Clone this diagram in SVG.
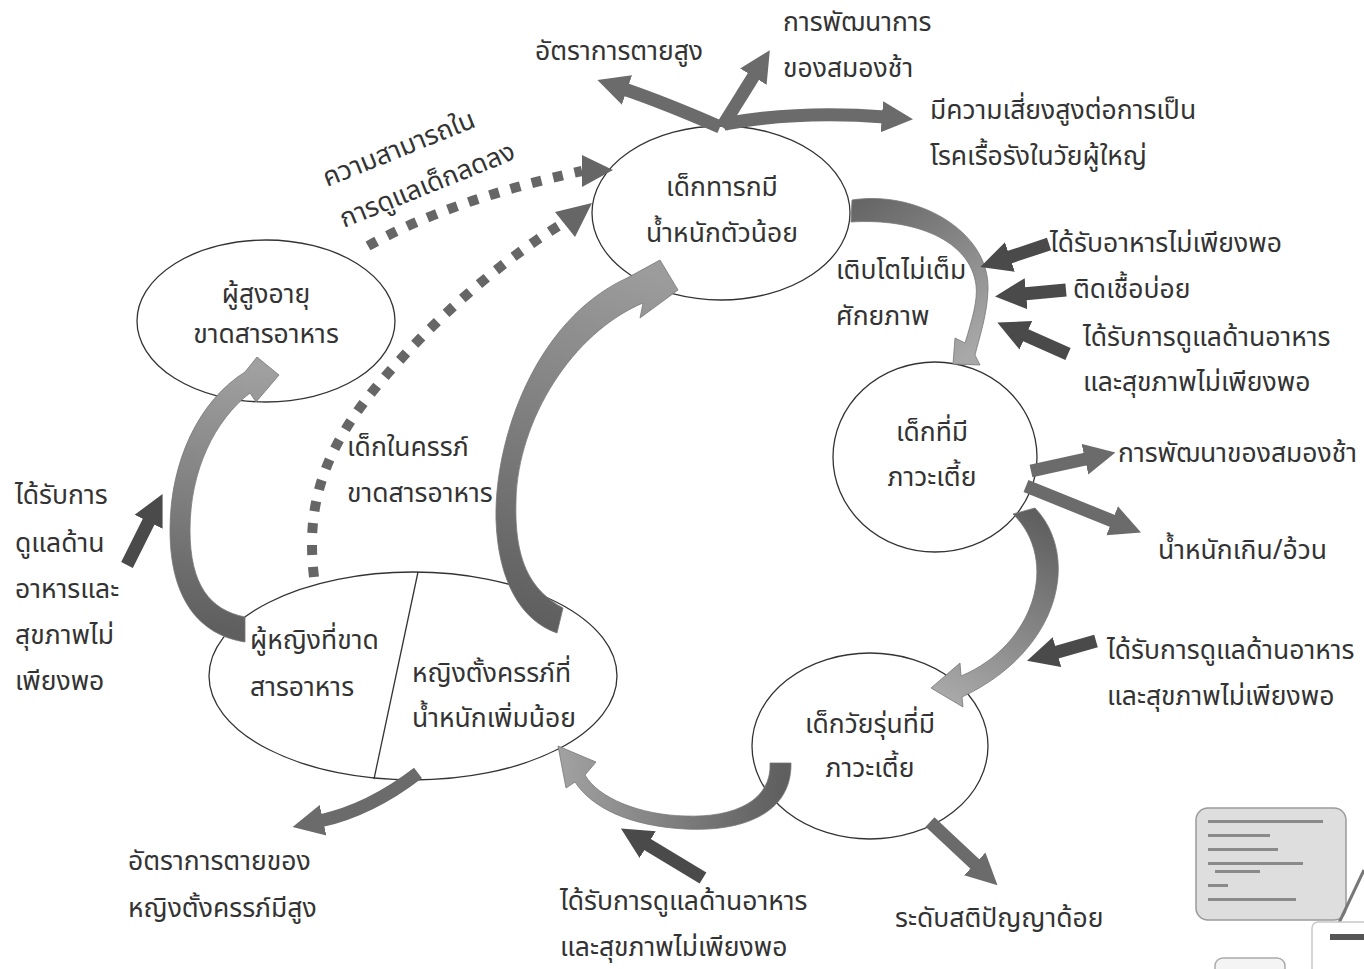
<svg xmlns="http://www.w3.org/2000/svg" width="1364" height="969" viewBox="0 0 1364 969">
<style>
text{font-family:"Noto Sans Thai","Noto Sans","Loma","DejaVu Sans",sans-serif;font-size:26.5px;fill:#333}
.c{text-anchor:middle}
.node ellipse{fill:#fff;stroke:#333;stroke-width:1.3}
.dk{stroke:#4a4a4a;stroke-width:13;fill:none;marker-end:url(#hd)}
.md{stroke:#6b6b6b;stroke-width:13;fill:none;marker-end:url(#hm)}
.dot{stroke:#666;stroke-width:10;fill:none;stroke-dasharray:10 12}
.band{stroke:#777;stroke-width:0.8}
</style>
<defs>
<marker id="hd" viewBox="0 0 10 10" refX="1" refY="5" markerWidth="2.4" markerHeight="2.6" orient="auto" markerUnits="strokeWidth"><path d="M0,0 L10,5 L0,10z" fill="#4a4a4a"/></marker>
<marker id="hm" viewBox="0 0 10 10" refX="1" refY="5" markerWidth="2.4" markerHeight="2.6" orient="auto" markerUnits="strokeWidth"><path d="M0,0 L10,5 L0,10z" fill="#6b6b6b"/></marker>
<linearGradient id="gAC" gradientUnits="userSpaceOnUse" x1="850" y1="210" x2="960" y2="360"><stop offset="0" stop-color="#666"/><stop offset="1" stop-color="#a8a8a8"/></linearGradient>
<linearGradient id="gCD" gradientUnits="userSpaceOnUse" x1="1025" y1="510" x2="935" y2="690"><stop offset="0" stop-color="#5f5f5f"/><stop offset="1" stop-color="#a8a8a8"/></linearGradient>
<linearGradient id="gDE" gradientUnits="userSpaceOnUse" x1="785" y1="765" x2="565" y2="750"><stop offset="0" stop-color="#5f5f5f"/><stop offset="1" stop-color="#a0a0a0"/></linearGradient>
<linearGradient id="gEA" gradientUnits="userSpaceOnUse" x1="555" y1="625" x2="670" y2="280"><stop offset="0" stop-color="#5f5f5f"/><stop offset="1" stop-color="#9c9c9c"/></linearGradient>
<linearGradient id="gEB" gradientUnits="userSpaceOnUse" x1="243" y1="630" x2="270" y2="370"><stop offset="0" stop-color="#5f5f5f"/><stop offset="1" stop-color="#a0a0a0"/></linearGradient>
</defs>
<rect width="1364" height="969" fill="#fff"/>

<g id="node-infant" class="node">
<ellipse cx="721" cy="213" rx="129" ry="87"/>
<text class="c" x="722" y="196">เด็กทารกมี</text>
<text class="c" x="722" y="242">น้ำหนักตัวน้อย</text>
</g>
<g id="node-elderly" class="node">
<ellipse cx="266" cy="321" rx="129" ry="81"/>
<text class="c" x="266" y="303">ผู้สูงอายุ</text>
<text class="c" x="266" y="343">ขาดสารอาหาร</text>
</g>
<g id="node-stunted-child" class="node">
<ellipse cx="935" cy="457" rx="102" ry="95"/>
<text class="c" x="932" y="441">เด็กที่มี</text>
<text class="c" x="932" y="486">ภาวะเตี้ย</text>
</g>
<g id="node-adolescent" class="node">
<ellipse cx="870" cy="746" rx="118" ry="93"/>
<text class="c" x="870" y="733">เด็กวัยรุ่นที่มี</text>
<text class="c" x="870" y="777">ภาวะเตี้ย</text>
</g>
<g id="node-women" class="node">
<ellipse cx="413" cy="676" rx="204" ry="104"/>
<line x1="418" y1="572" x2="374" y2="779" stroke="#333" stroke-width="1.3"/>
<text x="250" y="649">ผู้หญิงที่ขาด</text>
<text x="250" y="696">สารอาหาร</text>
<text x="412" y="682">หญิงตั้งครรภ์ที่</text>
<text x="412" y="727">น้ำหนักเพิ่มน้อย</text>
</g>

<g id="connectors">
<path class="band" fill="url(#gAC)" d="M852,200 C915,190 990,230 988,290 C987,315 980,335 975,355 L980,365 L953,364 L955,338 L965,343 C972,320 978,300 976,285 C970,240 915,218 851,222 Z"/>
<path class="band" fill="url(#gCD)" d="M1035,508 C1080,555 1062,650 962,697 L963,707 L931,688 L960,663 L961,676 C1035,645 1060,560 1013,514 Z"/>
<path class="band" fill="url(#gDE)" d="M791,763 C792,815 740,832 685,829 C630,826 592,808 575,782 L566,788 L558,746 L596,762 L585,775 C598,798 640,815 685,816 C735,818 772,800 770,763 Z"/>
<path class="band" fill="url(#gEA)" d="M557,633 C520,620 498,580 496,520 C494,440 535,320 627,278 L660,260 L678,290 L640,318 L643,303 C572,333 518,420 516,500 C514,560 530,590 563,608 Z"/>
<path class="band" fill="url(#gEB)" d="M245,642 C200,635 170,600 170,530 C170,460 200,400 245,372 L257,357 L279,375 L256,402 L250,393 C215,420 190,470 190,530 C190,585 210,610 245,617 Z"/>

<path class="dot" d="M368,246 Q450,200 582,171"/>
<path d="M582,155 L613,170 L582,187 Z" fill="#666"/>
<path class="dot" d="M314,577 C305,500 325,440 400,360 C450,305 510,255 565,222"/>
<path d="M555,212 L592,203 L575,237 Z" fill="#666"/>

<path class="md" d="M720,127 Q665,103 624,89"/>
<path class="md" d="M722,127 L755,74"/>
<path class="md" d="M724,124 Q800,110 885,117"/>
<line class="md" x1="1031" y1="471" x2="1088" y2="458.5"/>
<line class="md" x1="1026" y1="486" x2="1115" y2="522"/>
<line class="md" x1="930" y1="822" x2="977" y2="866"/>
<path class="md" d="M418,773 Q370,810 320,821"/>

<line class="dk" x1="1049" y1="244" x2="1007" y2="258"/>
<line class="dk" x1="1066" y1="290" x2="1023" y2="294"/>
<line class="dk" x1="1068" y1="354" x2="1023" y2="334"/>
<line class="dk" x1="127" y1="565" x2="150" y2="519"/>
<line class="dk" x1="703" y1="878" x2="645" y2="843"/>
<line class="dk" x1="1096" y1="641" x2="1054" y2="653"/>
</g>

<g id="labels">
<text x="535" y="60">อัตราการตายสูง</text>
<text x="783" y="31">การพัฒนาการ</text>
<text x="783" y="77">ของสมองช้า</text>
<text x="930" y="119">มีความเสี่ยงสูงต่อการเป็น</text>
<text x="930" y="165">โรคเรื้อรังในวัยผู้ใหญ่</text>
<text x="327" y="187" transform="rotate(-22 327 187)">ความสามารถใน</text>
<text x="344" y="228" transform="rotate(-22 344 228)">การดูแลเด็กลดลง</text>
<text x="836" y="279">เติบโตไม่เต็ม</text>
<text x="836" y="325">ศักยภาพ</text>
<text x="1050" y="252">ได้รับอาหารไม่เพียงพอ</text>
<text x="1073" y="298">ติดเชื้อบ่อย</text>
<text x="1083" y="346">ได้รับการดูแลด้านอาหาร</text>
<text x="1083" y="391">และสุขภาพไม่เพียงพอ</text>
<text x="1118" y="462">การพัฒนาของสมองช้า</text>
<text x="1158" y="559">น้ำหนักเกิน/อ้วน</text>
<text x="347" y="456">เด็กในครรภ์</text>
<text x="347" y="502">ขาดสารอาหาร</text>
<text x="15" y="504">ได้รับการ</text>
<text x="15" y="552">ดูแลด้าน</text>
<text x="15" y="598">อาหารและ</text>
<text x="15" y="644">สุขภาพไม่</text>
<text x="15" y="690">เพียงพอ</text>
<text x="1107" y="659">ได้รับการดูแลด้านอาหาร</text>
<text x="1107" y="705">และสุขภาพไม่เพียงพอ</text>
<text x="128" y="870">อัตราการตายของ</text>
<text x="128" y="917">หญิงตั้งครรภ์มีสูง</text>
<text x="560" y="910">ได้รับการดูแลด้านอาหาร</text>
<text x="560" y="956">และสุขภาพไม่เพียงพอ</text>
<text x="895" y="927">ระดับสติปัญญาด้อย</text>
</g>

<g id="corner-thumbnail">
<rect x="1196" y="808" width="150" height="112" rx="12" fill="#dedede" stroke="#9a9a9a" stroke-width="1.5"/>
<g fill="#8a8a8a">
<rect x="1208" y="820" width="115" height="3"/>
<rect x="1208" y="834" width="62" height="3"/>
<rect x="1208" y="848" width="70" height="3"/>
<rect x="1208" y="862" width="95" height="3"/>
<rect x="1215" y="870" width="45" height="3"/>
<rect x="1208" y="884" width="20" height="3"/>
<rect x="1208" y="898" width="88" height="3"/>
</g>
<line x1="1338" y1="925" x2="1364" y2="870" stroke="#777" stroke-width="3"/>
<rect x="1312" y="922" width="60" height="52" rx="6" fill="#fff" stroke="#c8c8c8" stroke-width="1.5"/>
<rect x="1330" y="934" width="34" height="6" fill="#555"/>
<rect x="1215" y="958" width="70" height="20" rx="8" fill="#f4f4f4" stroke="#aaa" stroke-width="1.5"/>
</g>
</svg>
